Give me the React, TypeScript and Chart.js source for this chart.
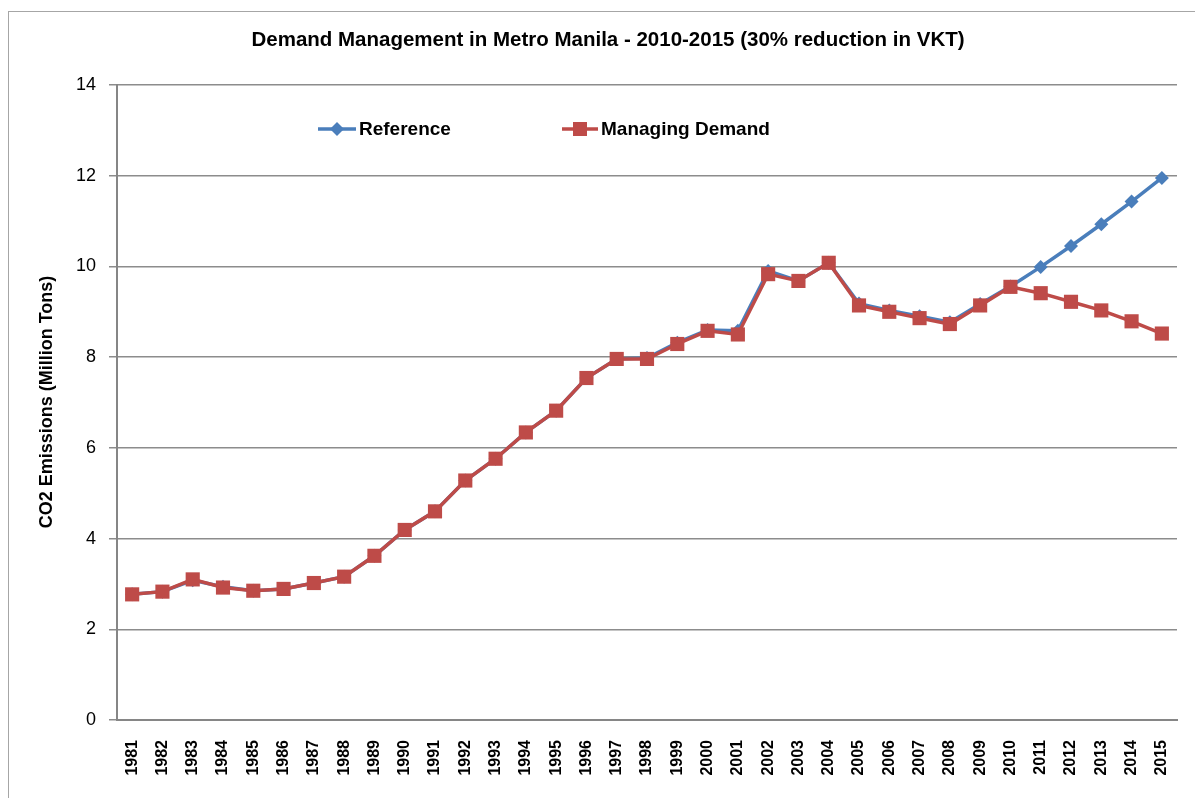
import React, { useEffect, useRef } from "react";
import { Chart, registerables } from "chart.js";

Chart.register(...registerables);

const years: string[] = [
  "1981", "1982", "1983", "1984", "1985", "1986", "1987", "1988", "1989", "1990",
  "1991", "1992", "1993", "1994", "1995", "1996", "1997", "1998", "1999", "2000",
  "2001", "2002", "2003", "2004", "2005", "2006", "2007", "2008", "2009", "2010",
  "2011", "2012", "2013", "2014", "2015",
];

const referenceValues: number[] = [
  2.77, 2.83, 3.08, 2.94, 2.85, 2.89, 3.02, 3.16, 3.62, 4.19,
  4.6, 5.28, 5.76, 6.34, 6.82, 7.54, 7.96, 7.98, 8.32, 8.6,
  8.58, 9.9, 9.68, 10.08, 9.18, 9.03, 8.9, 8.77, 9.17, 9.56,
  9.99, 10.45, 10.93, 11.43, 11.95,
];

const managingValues: number[] = [
  2.77, 2.83, 3.1, 2.92, 2.85, 2.89, 3.02, 3.16, 3.62, 4.19,
  4.6, 5.28, 5.76, 6.34, 6.82, 7.54, 7.96, 7.96, 8.29, 8.58,
  8.5, 9.83, 9.68, 10.08, 9.14, 9.0, 8.86, 8.73, 9.14, 9.55,
  9.41, 9.22, 9.03, 8.79, 8.52,
];

const yTicks: number[] = [0, 2, 4, 6, 8, 10, 12, 14];

const titleText = "Demand Management in Metro Manila - 2010-2015 (30% reduction in VKT)";
const yTitleText = "CO2 Emissions (Million Tons)";
const seriesNames: string[] = ["Reference", "Managing Demand"];
const blue = "#4a7ebb";
const red = "#be4b48";
const FONT = "'Liberation Sans', Arial, sans-serif";

const decorPlugin = {
  id: "decor",
  beforeDraw(chart: any) {
    const ctx = chart.ctx;
    ctx.save();
    ctx.fillStyle = "#ffffff";
    ctx.fillRect(0, 0, chart.width, chart.height);
    ctx.strokeStyle = "#a6a6a6";
    ctx.lineWidth = 1;
    ctx.strokeRect(8.5, 11.5, 1400, 1400);
    ctx.restore();
  },
  afterDraw(chart: any) {
    const ctx = chart.ctx;
    ctx.save();
    ctx.fillStyle = "#000";
    ctx.textAlign = "center";
    ctx.textBaseline = "middle";
    ctx.font = `bold 20.5px ${FONT}`;
    ctx.fillText(titleText, 608, 40);

    ctx.save();
    ctx.translate(47, 402);
    ctx.rotate(-Math.PI / 2);
    ctx.font = `bold 18px ${FONT}`;
    ctx.fillText(yTitleText, 0, 0);
    ctx.restore();

    // legend
    const ly = 129;
    ctx.lineWidth = 3.5;
    ctx.strokeStyle = blue;
    ctx.beginPath();
    ctx.moveTo(318, ly);
    ctx.lineTo(356, ly);
    ctx.stroke();
    ctx.fillStyle = blue;
    ctx.beginPath();
    ctx.moveTo(337, ly - 7);
    ctx.lineTo(344, ly);
    ctx.lineTo(337, ly + 7);
    ctx.lineTo(330, ly);
    ctx.closePath();
    ctx.fill();

    ctx.strokeStyle = red;
    ctx.beginPath();
    ctx.moveTo(562, ly);
    ctx.lineTo(598, ly);
    ctx.stroke();
    ctx.fillStyle = red;
    ctx.fillRect(573, ly - 7, 14, 14);

    ctx.fillStyle = "#000";
    ctx.textAlign = "left";
    ctx.font = `bold 19px ${FONT}`;
    ctx.fillText(seriesNames[0], 359, ly + 1);
    ctx.fillText(seriesNames[1], 601, ly + 1);
    ctx.restore();
  },
};

export default function App() {
  const canvasRef = useRef<HTMLCanvasElement | null>(null);

  useEffect(() => {
    if (!canvasRef.current) return;
    const chart = new Chart(canvasRef.current, {
      type: "line",
      data: {
        labels: years,
        datasets: [
          {
            label: seriesNames[0],
            data: referenceValues,
            borderColor: blue,
            backgroundColor: blue,
            borderWidth: 3.5,
            pointStyle: "rectRot",
            pointRadius: 7,
            pointBorderWidth: 0,
            pointBackgroundColor: blue,
            pointBorderColor: blue,
            tension: 0,
            order: 2,
          },
          {
            label: seriesNames[1],
            data: managingValues,
            borderColor: red,
            backgroundColor: red,
            borderWidth: 3.5,
            pointStyle: "rect",
            pointRadius: 10,
            pointBorderWidth: 0,
            pointBackgroundColor: red,
            pointBorderColor: red,
            tension: 0,
            order: 1,
          },
        ],
      },
      options: {
        animation: false,
        responsive: true,
        maintainAspectRatio: false,
        layout: { padding: { left: 0, top: 85, right: 18, bottom: 0 } },
        plugins: {
          legend: { display: false },
          title: { display: false },
          tooltip: { enabled: false },
        },
        scales: {
          x: {
            type: "category",
            offset: true,
            grid: { drawOnChartArea: false, drawTicks: false },
            border: { display: true, color: "#868686", width: 2 },
            ticks: {
              autoSkip: false,
              minRotation: 90,
              maxRotation: 90,
              padding: 20,
              color: "#000",
              font: { family: FONT, size: 16, weight: "bold" },
            },
            afterFit: (scale: any) => {
              scale.height = 78;
              scale.paddingRight = 0;
              scale.paddingLeft = 0;
            },
          },
          y: {
            min: 0,
            max: 14,
            afterBuildTicks: (scale: any) => {
              scale.ticks = yTicks.map((v) => ({ value: v }));
            },
            grid: { color: "#8c8c8c", lineWidth: 1.5, tickLength: 8 },
            border: { display: true, color: "#868686", width: 2 },
            ticks: {
              padding: 13,
              color: "#000",
              font: { family: FONT, size: 18 },
            },
            afterFit: (scale: any) => {
              scale.width = 117;
            },
          },
        },
      },
      plugins: [decorPlugin],
    });
    return () => chart.destroy();
  }, []);

  return (
    <div style={{ position: "fixed", left: 0, top: 0, width: 1195, height: 798, background: "#fff" }}>
      <canvas ref={canvasRef} />
    </div>
  );
}
